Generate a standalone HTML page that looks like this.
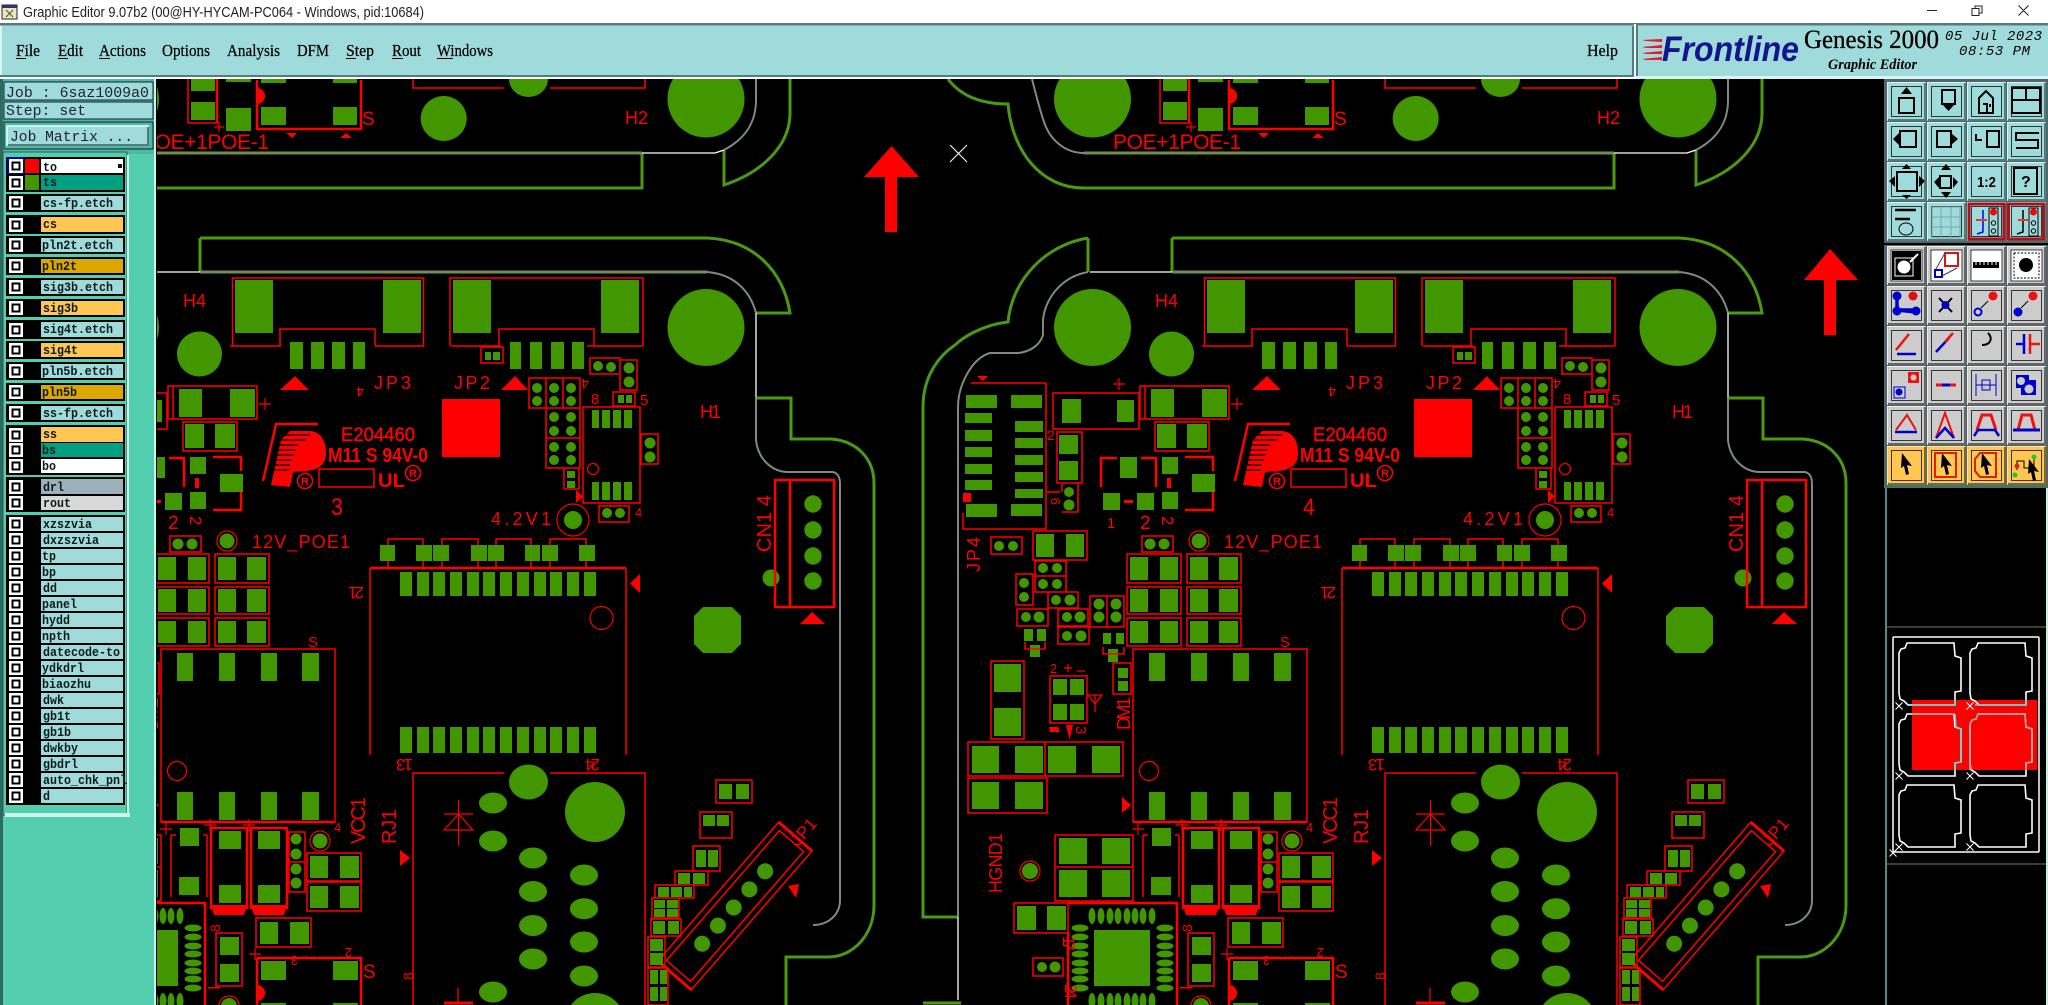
<!DOCTYPE html>
<html><head><meta charset="utf-8"><title>Graphic Editor</title>
<style>
html,body{margin:0;padding:0;background:#000;width:2048px;height:1005px;overflow:hidden}
svg{display:block}
.g{fill:#429700;stroke:none}
.r{fill:none;stroke:#f00;stroke-width:1.5}
.r2{fill:none;stroke:#f00;stroke-width:2.5}
.s{fill:#f00;font-family:"Liberation Sans",sans-serif}
.m{font-family:"Liberation Serif",serif;font-size:17px;fill:#000;stroke:#000;stroke-width:.25}
.l{font-family:"Liberation Mono",monospace;font-size:13px;font-weight:bold;fill:#0a1a1a}
.k{fill:none;stroke:#000;stroke-width:2}
</style></head><body>
<svg xmlns="http://www.w3.org/2000/svg" width="2048" height="1005" viewBox="0 0 2048 1005">
<defs>
<clipPath id="cv"><rect x="157" y="79" width="1727" height="926"/></clipPath>
<g id="b">
 <!-- outline -->
 <g fill="none">
  <path stroke="#4c9a14" stroke-width="3" d="M1172 238H1679C1725 240 1755 270 1762 313H1728M1172 238V272M1088 238V272M1088 238C1045 245 1012 280 1008 322C980 325 960 340 955 345C940 355 923 375 923 407V917H958M923 1003H961M1728 398H1763V439H1803C1830 441 1846 460 1846 483V905C1846 935 1825 957 1800 957H1758V1005M948 79C960 95 980 104 1008 104C1012 150 1040 188 1084 188H1614V153M1696 150V185C1735 172 1762 145 1762 113V79"/>
  <path stroke="#6f8f4f" stroke-width="3" d="M1172 272H1679M1084 153H1614"/>
  <path stroke="#808a80" stroke-width="2" d="M1679 272C1705 274 1722 290 1728 313M1088 272C1060 277 1045 300 1043 320V335C1040 345 1030 352 1018 353H990C972 358 958 385 958 407V917M1728 397V440C1730 460 1745 472 1760 472H1805C1810 473 1812 478 1812 484V900C1812 915 1800 925 1785 925M1032 79C1036 95 1040 110 1044 122C1050 140 1065 153 1084 153M1696 150C1715 140 1728 125 1728 100V79"/>
  <path stroke="#fff" stroke-width="1.3" d="M1090 272H1172M1728 313V397M958 917V1000M1614 153H1687L1696 150"/>
 </g>
 <!-- pads rect -->
 <path class="g" d="M1163 79h24v12h-24zM1163 102h24v18h-24zM1198 108h25v23h-25zM1198 79h25v3h-25zM1233 107h25v18h-25zM1305 107h24v18h-24zM1233 79h25v4h-25zM1305 79h24v4h-24z
 M1207 280h38v53h-38zM1355 280h38v53h-38zM1425 280h38v53h-38zM1573 280h38v53h-38z
 M1262 342h13v27h-13zM1283 342h13v27h-13zM1304 342h13v27h-13zM1325 342h12v27h-12zM1482 342h11v27h-11zM1502 342h12v27h-12zM1523 342h13v27h-13zM1544 342h12v27h-12zM1457 352h6v8h-6zM1465 352h7v8h-7z
 M1151 389h23v28h-23zM1202 389h25v28h-25zM1157 424h19v24h-19zM1187 424h20v24h-20zM1062 399h19v24h-19zM1117 400h17v22h-17z
 M966 395h31v13h-31zM965 413h27v10h-27zM965 430h27v11h-27zM965 447h27v10h-27zM965 464h27v10h-27zM965 480h27v10h-27zM966 504h31v13h-31z
 M1011 395h31v13h-31zM1015 421h28v11h-28zM1015 438h28v10h-28zM1015 455h28v10h-28zM1015 472h28v10h-28zM1015 489h28v9h-28zM1011 504h31v12h-31z
 M1059 435h19v19h-19zM1059 461h19v19h-19zM1120 457h17v21h-17zM1103 493h17v17h-17zM1137 493h17v17h-17zM1162 492h16v17h-16zM1162 457h16v17h-16zM1192 474h23v18h-23z
 M1130 557h18v23h-18zM1160 557h18v23h-18zM1130 589h18v23h-18zM1160 589h18v23h-18zM1130 621h18v22h-18zM1160 621h18v22h-18zM1190 557h18v23h-18zM1219 557h19v23h-19zM1190 589h18v23h-18zM1219 589h19v23h-19zM1190 621h18v22h-18zM1219 621h19v22h-19z
 M1036 534h18v23h-18zM1066 534h18v23h-18z
 M1024 629h9v12h-9zM1037 629h9v12h-9zM1030 645h10v12h-10zM1103 633h8v11h-8zM1116 633h8v11h-8zM1108 649h10v13h-10zM1118 668h10v10h-10zM1118 681h10v10h-10z
 M994 664h27v28h-27zM994 708h27v28h-27zM1053 679h14v16h-14zM1070 679h14v16h-14zM1053 704h14v16h-14zM1070 704h14v16h-14z
 M1149 653h16v28h-16zM1191 653h16v28h-16zM1233 653h16v28h-16zM1274 653h17v28h-17zM1149 792h16v28h-16zM1191 792h16v28h-16zM1233 792h16v28h-16zM1274 792h17v28h-17z
 M1372 572h12v24h-12zM1389 572h12v24h-12zM1405 572h12v24h-12zM1422 572h12v24h-12zM1439 572h12v24h-12zM1455 572h12v24h-12zM1472 572h12v24h-12zM1489 572h12v24h-12zM1506 572h12v24h-12zM1522 572h12v24h-12zM1539 572h12v24h-12zM1556 572h12v24h-12z
 M1372 727h12v26h-12zM1389 727h12v26h-12zM1405 727h12v26h-12zM1422 727h12v26h-12zM1439 727h12v26h-12zM1455 727h12v26h-12zM1472 727h12v26h-12zM1489 727h12v26h-12zM1506 727h12v26h-12zM1522 727h12v26h-12zM1539 727h12v26h-12zM1556 727h12v26h-12z
 M1352 545h15v16h-15zM1388 545h16v16h-16zM1405 545h16v16h-16zM1443 545h16v16h-16zM1460 545h16v16h-16zM1497 545h15v16h-15zM1514 545h16v16h-16zM1551 545h16v16h-16z
 M1564 410h7v18h-7zM1574 410h8v18h-8zM1585 410h8v18h-8zM1596 410h8v18h-8zM1564 482h7v18h-7zM1574 482h8v18h-8zM1585 482h8v18h-8zM1596 482h8v18h-8zM1590 395h6v8h-6zM1598 395h6v8h-6zM1539 471h8v7h-8zM1539 481h8v7h-8z
 M972 746h27v27h-27zM1015 746h28v27h-28zM1048 746h28v27h-28zM1092 746h28v27h-28zM972 782h27v27h-27zM1015 782h28v27h-28z
 M1059 838h28v26h-28zM1102 838h28v26h-28zM1059 870h28v27h-28zM1102 870h28v27h-28zM1152 828h19v18h-19zM1151 877h20v18h-20z
 M1191 831h22v18h-22zM1191 885h22v18h-22zM1230 831h22v18h-22zM1230 885h22v18h-22z
 M1282 856h18v22h-18zM1312 856h19v22h-19zM1282 886h18v22h-18zM1312 886h19v22h-19zM1232 922h18v22h-18zM1262 922h19v22h-19z
 M1017 906h19v24h-19zM1047 906h19v24h-19zM1094 930h56v56h-56zM1192 937h19v18h-19zM1192 964h19v18h-19zM1233 961h25v19h-25zM1305 961h25v19h-25zM1233 1003h25v4h-25zM1305 1003h25v4h-25z"/>
 <path class="g" d="M1666 616l9-9h29l9 9v28l-9 9h-29l-9-9z"/>
 <!-- circles -->
 <g class="g">
  <ellipse cx="1500.5" cy="79" rx="19.5" ry="18"/><ellipse cx="1415.7" cy="118.5" rx="23" ry="22.5"/><ellipse cx="1678" cy="99" rx="38.5" ry="38.5"/><ellipse cx="1092.5" cy="99" rx="38.5" ry="38.5"/>
  <circle cx="1678" cy="327.5" r="38.5"/><circle cx="1092.5" cy="327.5" r="38.5"/><circle cx="1171.5" cy="354" r="22.5"/>
  <circle cx="1069" cy="492" r="5"/><circle cx="1069" cy="505" r="5.5"/><circle cx="1199" cy="541" r="7.5"/><circle cx="1150" cy="544" r="5.5"/><circle cx="1164" cy="544" r="5.5"/><circle cx="999" cy="546" r="5"/><circle cx="1013" cy="546" r="5"/>
  <circle cx="1043" cy="568" r="5"/><circle cx="1057" cy="568" r="5"/><circle cx="1043" cy="584" r="5"/><circle cx="1057" cy="584" r="5"/><circle cx="1024" cy="583" r="5"/><circle cx="1024" cy="597" r="5"/><circle cx="1056" cy="600" r="5"/><circle cx="1070" cy="600" r="5.5"/><circle cx="1026" cy="617" r="5"/><circle cx="1039" cy="617" r="5.5"/><circle cx="1067" cy="617" r="5"/><circle cx="1080" cy="617" r="5.5"/><circle cx="1067" cy="636" r="5"/><circle cx="1081" cy="636" r="5.5"/>
  <circle cx="1099" cy="604" r="5.5"/><circle cx="1116" cy="604" r="5.5"/><circle cx="1099" cy="617" r="5.5"/><circle cx="1116" cy="617" r="5.5"/>
  <circle cx="1545" cy="520" r="9"/><circle cx="1570" cy="366" r="5"/><circle cx="1583" cy="367" r="5"/><circle cx="1601" cy="368" r="5.5"/><circle cx="1601" cy="382" r="5.5"/>
  <circle cx="1509" cy="388" r="5"/><circle cx="1526" cy="388" r="5"/><circle cx="1543" cy="388" r="5"/><circle cx="1509" cy="401" r="5"/><circle cx="1526" cy="401" r="5"/><circle cx="1543" cy="401" r="5"/><circle cx="1526" cy="417" r="5"/><circle cx="1543" cy="417" r="5"/><circle cx="1526" cy="431" r="5"/><circle cx="1543" cy="431" r="5"/><circle cx="1526" cy="447" r="5"/><circle cx="1543" cy="447" r="5"/><circle cx="1526" cy="460" r="5"/><circle cx="1543" cy="460" r="5"/>
  <circle cx="1622" cy="443" r="5.5"/><circle cx="1622" cy="457" r="5.5"/><circle cx="1579" cy="513" r="5"/><circle cx="1592" cy="513" r="5"/>
  <circle cx="1785" cy="504" r="8.7"/><circle cx="1785" cy="530" r="8.7"/><circle cx="1785" cy="556" r="8.7"/><circle cx="1785" cy="581" r="8.7"/><circle cx="1743" cy="578" r="8.5"/>
  <ellipse cx="1500.5" cy="782" rx="19.5" ry="17.5"/><circle cx="1567" cy="812" r="30"/>
  <ellipse cx="1465" cy="803" rx="14" ry="10.5"/><ellipse cx="1465" cy="841" rx="14" ry="10.5"/><ellipse cx="1505" cy="858" rx="14" ry="10.5"/><ellipse cx="1505" cy="891.5" rx="14" ry="10.5"/><ellipse cx="1505" cy="925.5" rx="14" ry="10.5"/><ellipse cx="1505" cy="959" rx="14" ry="10.5"/><ellipse cx="1556" cy="875" rx="14" ry="10.5"/><ellipse cx="1556" cy="908.7" rx="14" ry="10.5"/><ellipse cx="1556" cy="942" rx="14" ry="10.5"/><ellipse cx="1556" cy="976" rx="14" ry="10.5"/><ellipse cx="1465" cy="992" rx="14" ry="10.5"/><circle cx="1567" cy="1023" r="30"/>
  <circle cx="1030" cy="871" r="8"/><circle cx="1268" cy="839" r="5.5"/><circle cx="1268" cy="854" r="5.5"/><circle cx="1268" cy="869" r="5.5"/><circle cx="1268" cy="883" r="5.5"/><circle cx="1292" cy="841" r="7.5"/><circle cx="1042" cy="967" r="5"/><circle cx="1055" cy="967" r="5.5"/><circle cx="1201" cy="1006" r="8"/>
  <ellipse cx="1092" cy="916" rx="3.5" ry="8"/><ellipse cx="1101" cy="916" rx="3.5" ry="8"/><ellipse cx="1110" cy="916" rx="3.5" ry="8"/><ellipse cx="1118" cy="916" rx="3.5" ry="8"/><ellipse cx="1127" cy="916" rx="3.5" ry="8"/><ellipse cx="1135" cy="916" rx="3.5" ry="8"/><ellipse cx="1143" cy="916" rx="3.5" ry="8"/><ellipse cx="1152" cy="916" rx="3.5" ry="8"/>
  <ellipse cx="1092" cy="1001" rx="3.5" ry="8"/><ellipse cx="1101" cy="1001" rx="3.5" ry="8"/><ellipse cx="1110" cy="1001" rx="3.5" ry="8"/><ellipse cx="1118" cy="1001" rx="3.5" ry="8"/><ellipse cx="1127" cy="1001" rx="3.5" ry="8"/><ellipse cx="1135" cy="1001" rx="3.5" ry="8"/><ellipse cx="1143" cy="1001" rx="3.5" ry="8"/><ellipse cx="1152" cy="1001" rx="3.5" ry="8"/>
  <ellipse cx="1080" cy="928" rx="8.5" ry="3.5"/><ellipse cx="1080" cy="937" rx="8.5" ry="3.5"/><ellipse cx="1080" cy="946" rx="8.5" ry="3.5"/><ellipse cx="1080" cy="954" rx="8.5" ry="3.5"/><ellipse cx="1080" cy="963" rx="8.5" ry="3.5"/><ellipse cx="1080" cy="971" rx="8.5" ry="3.5"/><ellipse cx="1080" cy="979" rx="8.5" ry="3.5"/><ellipse cx="1080" cy="988" rx="8.5" ry="3.5"/>
  <ellipse cx="1165" cy="928" rx="8.5" ry="3.5"/><ellipse cx="1165" cy="937" rx="8.5" ry="3.5"/><ellipse cx="1165" cy="946" rx="8.5" ry="3.5"/><ellipse cx="1165" cy="954" rx="8.5" ry="3.5"/><ellipse cx="1165" cy="963" rx="8.5" ry="3.5"/><ellipse cx="1165" cy="971" rx="8.5" ry="3.5"/><ellipse cx="1165" cy="979" rx="8.5" ry="3.5"/><ellipse cx="1165" cy="988" rx="8.5" ry="3.5"/>
 </g>
 <!-- red outlines -->
 <path class="r" d="M1160 79V123H1190M1385 79V88H1476M1522 88H1617V79M1204.5 346V278H1395.5V346M1202 346H1253M1347 346H1396M1252 346V329H1347V346M1422 346V278H1615V346M1423 346H1473M1559 346H1615M1471 346V329H1566V346M1453 347H1475V363H1453ZM1555 407H1612V503H1555Z
 M971 383H1046V529H963V513M1053 393H1139V429H1053ZM1155 422H1209V451H1155ZM1140 386H1229V419H1140ZM1145 386V419
 M1057 432H1082V483H1057ZM1047 492H1060M1078 483V512H1062M1062 484V492
 M1142 536H1173V552H1142ZM991 537H1022V554H991Z
 M1127 554H1181V583H1127ZM1127 587H1181V614H1127ZM1127 618H1181V646H1127ZM1187 554H1241V583H1187ZM1187 587H1241V614H1187ZM1187 618H1241V646H1187ZM1033 531H1087V560H1033Z
 M1035 561H1066V576H1035ZM1035 576H1066V592H1035ZM1016 574H1033V605H1016ZM1048 592H1078V608H1048ZM1017 609H1048V626H1017ZM1058 609H1088V626H1058ZM1058 627H1089V644H1058ZM1090 596H1124V627H1090ZM1107 596V627M1025 642V649H1045V642M1103 647V654H1124V647M1113 663H1131V694H1113Z
 M1562 358H1592V374H1562ZM1592 360H1609V390H1592ZM1501 378H1552V408H1501ZM1518 378V408M1535 378V408M1518 408V468H1552V408M1518 438H1552M1536 468V489H1551V468M1585 392H1607V406H1585ZM1613 434H1630V464H1613ZM1571 506H1601V522H1571Z
 M1360 545V539H1395V545M1414 545V539H1450V545M1468 545V539H1503V545M1522 545V539H1558V545M1360 561V568M1395 561V568M1414 561V568M1450 561V568M1468 561V568M1503 561V568M1522 561V568M1558 561V568
 M1342 568V755M1598 568V755M1291 469H1346V487H1291Z
 M991 661H1024V739H991ZM1050 676H1087V723H1050ZM968 742H1123V776H968ZM1045 742V776M968 778H1047V813H968ZM1055 835H1133V901H1055ZM1055 867H1133M1014 903H1068V933H1014ZM1143 835V897M1179 835V897M1143 835H1148M1179 835H1175
 M1261 832H1277V892H1261ZM1261 862H1277M1279 853H1333V881H1279ZM1279 882H1333V911H1279ZM1228 918H1283V947H1228ZM1188 933H1214V986H1188ZM1033 958H1063V976H1033Z
 M1133 649H1307V822H1133ZM1385 1005V773H1476M1522 773H1617V1005"/>
 <path class="r2" d="M1229 80V129H1333V80M1189 79V123M1342 568H1598M1133 822H1307M1101 487V458H1117M1141 458H1156V487M1185 457H1213V471M1185 510H1213V492M1068 903H1177V1005M1068 933V1005M1747 480H1806V607H1747ZM1762 480V607M1183 828H1219V908H1183ZM1223 828H1259V908H1223ZM1229 958H1333V1005M1229 958V1005"/>
 <path fill="#f00" d="M1258 133h11l-5 5zM1312 138l6-5 6 5zM1252 390l15-14 14 14zM1473 390l14-14 13 14zM977 376h11l-5 5zM1602 583.5l10-9.5v19zM1548 490l7 6.5-7 6.5zM1772 624l12-12 13 12zM1372 850l10 8-10 8zM1122 797l9 8-9 8zM1066 725h7l-3.5 15zM1414 399h58v58h-58zM1167 478h4v10h-4zM1124 500h9v3h-9zM1049 727h9l2 5h-10zM1183 905h36l-3 10h-30zM1223 905h36l-3 10h-30zM963 493h8v9h-8z"/>
 <path fill="#f00" d="M1229 88a8 8 0 0 1 0 16zM1229 985a8 8 0 0 1 0 16z"/>
 <g class="r" style="stroke-width:1.2">
  <ellipse cx="1199" cy="541" rx="10" ry="10"/><circle cx="1149" cy="771" r="9.5"/><circle cx="1573.5" cy="618" r="11.5"/><circle cx="1545" cy="520" r="16"/><circle cx="1565" cy="469" r="5.5"/><circle cx="1030" cy="871" r="10"/><circle cx="1292" cy="841" r="10"/><circle cx="1201" cy="1006" r="10"/>
  <path d="M1191 122V132M1186 127H1196M1237 398V410M1231 404H1243M1119 378V390M1113 384H1125M1430.5 800V846M1416 830L1430.5 814L1445 830ZM1416 814H1445M1430 988V1003M1138 823V835M1132 829H1144M1182 819V831M1176 825H1188M1221 819V831M1215 825H1227M1227 948V960M1221 954H1233M1068 664V672M1064 668H1072M1077 671H1085M1088 695H1102L1095 704ZM1095 695V712"/>
 </g>
 <path fill="none" stroke="#f00" stroke-width="3" d="M1416 1003H1445"/>
 <!-- JP1 connector -->
 <g transform="translate(1707 906) rotate(-49)">
  <path class="r" d="M-92-22H92V22H-92ZM-86-16H86V16H-86Z"/>
  <path fill="none" stroke="#f00" stroke-width="3" d="M-92-22V22M92-22V22"/>
  <g class="g"><circle cx="-50" cy="0" r="8"/><circle cx="-26" cy="0" r="8"/><circle cx="-2" cy="0" r="8"/><circle cx="22" cy="0" r="8"/><circle cx="46" cy="0" r="8"/></g>
 </g>
 <path class="r" d="M1688 780H1724V803H1688ZM1665 846H1692V871H1665ZM1647 871H1680V885H1647ZM1627 885H1666V898H1627ZM1624 898H1651V918H1624ZM1623 919H1653V936H1623ZM1620 937H1637V967H1620ZM1620 968H1640V1005H1620ZM1672 812H1704V838H1672Z"/>
 <path class="g" d="M1691 784h13v15h-13zM1708 784h13v15h-13zM1668 850h10v17h-10zM1680 850h10v17h-10zM1650 873h12v11h-12zM1665 873h12v11h-12zM1630 887h11v10h-11zM1643 887h11v10h-11zM1656 887h8v10h-8zM1626 900h11v8h-11zM1639 900h11v8h-11zM1626 909h11v8h-11zM1639 909h11v8h-11zM1625 921h12v13h-12zM1640 921h11v13h-11zM1622 939h13v12h-13zM1622 953h13v12h-13zM1622 970h8v14h-8zM1632 970h7v14h-7zM1622 987h8v14h-8zM1632 987h7v14h-7zM1675 815h12v11h-12zM1689 815h12v11h-12z"/>
 <path fill="#f00" d="M1760 886l11-2-3 14z"/>
 <!-- logo -->
 <path fill="none" stroke="#f00" stroke-width="2.5" d="M1290 424H1248L1235 481"/>
 <path fill="#f00" d="M1262 431H1282C1294 432 1298 442 1298 453C1298 465 1290 470 1278 471L1265 472L1262 487L1243 485L1253 440Z"/>
 <path stroke="#000" stroke-width="1.3" d="M1254 435H1282M1252 440H1278M1250 445H1270M1249 450H1268M1247 455H1266M1246 460H1264M1245 465H1262M1244 470H1261"/>
 <circle class="r" cx="1277" cy="481" r="7.5"/><circle class="r" cx="1385" cy="473" r="7.5"/>
 <text class="s" x="1273" y="485" font-size="11" font-weight="bold">R</text><text class="s" x="1381" y="477" font-size="11" font-weight="bold">R</text>
 <text class="s" x="1350" y="487" font-size="19" font-weight="bold" textLength="27" lengthAdjust="spacingAndGlyphs">UL</text>
 <text class="s" x="1313" y="441" font-size="19" stroke="#f00" stroke-width=".4" textLength="74" lengthAdjust="spacingAndGlyphs">E204460</text>
 <text class="s" x="1300" y="462" font-size="20" font-weight="bold" textLength="100" lengthAdjust="spacingAndGlyphs">M11 S 94V-0</text>
 <!-- labels -->
 <g class="s" font-size="18">
  <text x="1113" y="149" font-size="21" textLength="128" lengthAdjust="spacing">POE+1POE-1</text>
  <text x="1597" y="124" textLength="23" lengthAdjust="spacing">H2</text>
  <text x="1155" y="307" textLength="23" lengthAdjust="spacing">H4</text>
  <text x="1346" y="389" textLength="37" lengthAdjust="spacing">JP3</text>
  <text x="1426" y="389" textLength="36" lengthAdjust="spacing">JP2</text>
  <text x="1672" y="418" textLength="21" lengthAdjust="spacing">H1</text>
  <text x="1224" y="548" textLength="98" lengthAdjust="spacing">12V_POE1</text>
  <text x="1463" y="525" textLength="60" lengthAdjust="spacing">4.2V1</text>
  <text x="1334" y="125" font-size="19">S</text>
  <text x="1335" y="978" font-size="19">S</text>
  <text x="1107" y="528" font-size="15">1</text><text x="1140" y="529" font-size="19">2</text>
  <text transform="translate(1162 516) rotate(90)" font-size="17">2</text>
  <text x="1047" y="440" font-size="14">2</text>
  <text x="1280" y="647" font-size="15">S</text>
  <text x="1563" y="404" font-size="15">8</text><text x="1612" y="405" font-size="15">5</text><text x="1607" y="517" font-size="13">4</text>
  <text x="1306" y="832" font-size="13">4</text>
  <text transform="translate(1561 379) rotate(180)" font-size="14">4</text>
  <text transform="translate(1336 377) rotate(180)" font-size="14" y="-10">4</text>
  <text transform="translate(1336 587) rotate(180)" font-size="17" textLength="16">21</text>
  <text transform="translate(1385 759) rotate(180)" font-size="17" textLength="17">13</text>
  <text transform="translate(1572 759) rotate(180)" font-size="17" textLength="15">24</text>
  <text transform="translate(1063 936) rotate(90)" font-size="17" textLength="15">17</text>
  <text transform="translate(1065 984) rotate(90)" font-size="17" textLength="15">24</text>
  <text transform="translate(980 572) rotate(-90)" textLength="35" lengthAdjust="spacing">JP4</text>
  <text transform="translate(1130 730) rotate(-90)" textLength="33" lengthAdjust="spacing">DM1</text>
  <text transform="translate(1002 893) rotate(-90)" textLength="60" lengthAdjust="spacing">HGND1</text>
  <text transform="translate(1337 844) rotate(-90)" font-size="20" textLength="47" lengthAdjust="spacing">VCC1</text>
  <text transform="translate(1368 844) rotate(-90)" font-size="20" textLength="35" lengthAdjust="spacing">RJ1</text>
  <text transform="translate(1743 552) rotate(-90)" font-size="20" textLength="57" lengthAdjust="spacing">CN1 4</text>
  <text transform="translate(1761 839) rotate(-49) translate(0 12)" font-size="17" textLength="30" lengthAdjust="spacing">JP1</text>
  <text transform="translate(1385 980) rotate(-90)" font-size="14">8</text>
  <text transform="translate(1192 932) rotate(-90)" font-size="14">8</text>
  <text transform="translate(1076 726) rotate(90)" font-size="15">3</text>
  <text transform="translate(1258 956) rotate(180) translate(-12 0)" font-size="13">3</text>
  <text transform="translate(1324 948) rotate(180)" font-size="13">2</text>
  <text x="1050" y="673" font-size="13">2</text>
  <text transform="translate(1048 505) rotate(-90)" font-size="13" y="12">9</text>
  <rect x="1180" y="987" width="12" height="1.5"/>
 </g>
</g>
<g id="bt"><rect width="39" height="39" fill="#a0dbdb"/><path fill="none" stroke="#d8f4f4" d="M.5 38V.5H38"/><path fill="none" stroke="#537d7d" stroke-width="2" d="M1 38H38V1"/><rect x="4.5" y="4.5" width="30" height="30" fill="none" stroke="#111" stroke-width=".8"/></g>
<g id="bg"><rect width="39" height="39" fill="#ccc"/><path fill="none" stroke="#eee" d="M.5 38V.5H38"/><path fill="none" stroke="#666" stroke-width="2" d="M1 38H38V1"/><rect x="4.5" y="4.5" width="30" height="30" fill="none" stroke="#111" stroke-width=".8"/></g>
<g id="bw"><rect width="39" height="39" fill="#ccc"/><path fill="none" stroke="#eee" d="M.5 38V.5H38"/><path fill="none" stroke="#666" stroke-width="2" d="M1 38H38V1"/><rect x="4" y="4" width="31" height="31" fill="#fff" stroke="#111" stroke-width=".8"/></g>
<g id="bo"><rect width="39" height="39" fill="#ffc654"/><path fill="none" stroke="#ffe6a8" d="M.5 38V.5H38"/><path fill="none" stroke="#7a6a3a" stroke-width="2" d="M1 38H38V1"/><rect x="4.5" y="4.5" width="30" height="30" fill="none" stroke="#111" stroke-width=".8"/></g>
<g id="chk"><rect width="14" height="14" fill="#fff"/><rect x="2.5" y="2.5" width="9" height="9" fill="#000"/><rect x="4.5" y="4.5" width="5" height="5" fill="#fff"/></g>
<path id="mini" fill="none" d="M8 0H55L56 13L62 15V48L56 49V62H9L5 58L1 56L0 50V10L2 6L6 5Z"/>
<path id="cx" fill="none" stroke="#fff" stroke-width="1" d="M-3.5-3.5L3.5 3.5M-3.5 3.5L3.5-3.5"/>
</defs>

<rect width="2048" height="1005" fill="#000"/>
<!-- canvas -->
<g clip-path="url(#cv)">
 <use href="#b"/>
 <use href="#b" x="-972"/>
 <g class="s" font-size="24"><text x="1303" y="515" textLength="12" lengthAdjust="spacingAndGlyphs">4</text><text x="331" y="515" textLength="12" lengthAdjust="spacingAndGlyphs">3</text></g>
 <path fill="#f00" d="M891.5 146L919 177H897V232H885V177H864ZM1830 249L1858 280H1836V335H1824V280H1804Z"/>
 <path stroke="#fff" stroke-width="1" d="M950 145L967 162M967 145L950 162"/>
</g>

<!-- title bar -->
<rect width="2048" height="23" fill="#fff"/>
<rect x="2" y="5" width="15" height="14" fill="#e8e8c8" stroke="#222"/><rect x="2" y="5" width="15" height="3" fill="#336"/>
<path stroke="#550" d="M6 10L13 17M13 10L6 17"/>
<text x="23" y="17" font-family="Liberation Sans,sans-serif" font-size="15" fill="#222" textLength="401" lengthAdjust="spacingAndGlyphs">Graphic Editor 9.07b2 (00@HY-HYCAM-PC064 - Windows, pid:10684)</text>
<path stroke="#222" fill="none" d="M1927 10.5H1937M1972 8.5H1979V15.5H1972ZM1975 8.5V6H1982V13H1979M2018.5 5.5L2028.5 15.5M2028.5 5.5L2018.5 15.5"/>
<!-- menu bar -->
<rect y="23" width="2048" height="56" fill="#fff"/>
<rect y="23" width="2048" height="2.5" fill="#5a7a7a"/>
<rect y="25.5" x="0" width="2048" height="51.5" fill="#a0dbdb"/>
<rect y="25.5" x="0" width="2" height="51" fill="#d8f4f4"/>
<rect y="75" width="1633" height="2" fill="#537d7d"/>
<rect x="1632" y="26" width="2" height="51" fill="#537d7d"/><rect x="1634" y="24" width="2" height="55" fill="#e8ffff"/><rect x="1636" y="76" width="412" height="3" fill="#d8f4f4"/><rect x="1636" y="25" width="2" height="51" fill="#537d7d"/>
<g class="m">
 <text x="16" y="56" textLength="24" lengthAdjust="spacingAndGlyphs">File</text>
 <text x="58" y="56" textLength="25" lengthAdjust="spacingAndGlyphs">Edit</text>
 <text x="99" y="56" textLength="47" lengthAdjust="spacingAndGlyphs">Actions</text>
 <text x="162" y="56" textLength="48" lengthAdjust="spacingAndGlyphs">Options</text>
 <text x="227" y="56" textLength="53" lengthAdjust="spacingAndGlyphs">Analysis</text>
 <text x="297" y="56" textLength="32" lengthAdjust="spacingAndGlyphs">DFM</text>
 <text x="346" y="56" textLength="28" lengthAdjust="spacingAndGlyphs">Step</text>
 <text x="392" y="56" textLength="29" lengthAdjust="spacingAndGlyphs">Rout</text>
 <text x="437" y="56" textLength="56" lengthAdjust="spacingAndGlyphs">Windows</text>
 <text x="1587" y="56" textLength="31" lengthAdjust="spacingAndGlyphs">Help</text>
</g>
<path stroke="#000" stroke-width="1" d="M16 58.5H26M58 58.5H68M99 58.5H110M346 58.5H356M392 58.5H403M437 58.5H453"/>
<!-- logo -->
<path fill="#e8192c" d="M1642 40L1662 39V42L1646 41ZM1642 47L1662 45V48L1646 48ZM1642 53L1662 51V54L1646 54ZM1642 59L1662 57V60L1646 60Z"/>
<text x="1662" y="61" font-family="Liberation Sans,sans-serif" font-weight="bold" font-style="italic" font-size="35" fill="#14148c" textLength="137" lengthAdjust="spacingAndGlyphs">Frontline</text>
<text x="1804" y="48" font-family="Liberation Serif,serif" font-size="26" fill="#000" stroke="#000" stroke-width=".3" textLength="135" lengthAdjust="spacingAndGlyphs">Genesis 2000</text>
<text x="1828" y="69" font-family="Liberation Serif,serif" font-weight="bold" font-style="italic" font-size="15" fill="#000" textLength="89" lengthAdjust="spacingAndGlyphs">Graphic Editor</text>
<g font-family="Liberation Mono,monospace" font-style="italic" font-size="14" fill="#000">
 <text x="1945" y="40" textLength="97" lengthAdjust="spacing">05 Jul 2023</text>
 <text x="1959" y="55" textLength="71" lengthAdjust="spacing">08:53 PM</text>
</g>

<!-- left panel -->
<rect y="79" width="155" height="926" fill="#53cfb0"/>
<rect y="79" width="155" height="75" fill="#4fb8a2"/>
<rect y="79" width="3" height="926" fill="#2f6a60"/>
<rect x="154" y="79" width="2" height="926" fill="#cdf2e8"/>
<rect x="4" y="82" width="149" height="18" fill="#a0dbdb" stroke="#123" stroke-width="1"/>
<rect x="4" y="102" width="149" height="17" fill="#a0dbdb" stroke="#123" stroke-width="1"/>
<rect x="4" y="122" width="149" height="27" fill="none" stroke="#123" stroke-width="1"/>
<rect x="7" y="126" width="142" height="20" fill="#a0dbdb"/>
<path fill="none" stroke="#e8ffff" stroke-width="1.5" d="M7 146V126H149"/><path fill="none" stroke="#537d7d" stroke-width="2" d="M8 145H148V127"/>
<g font-family="Liberation Mono,monospace" font-size="15" fill="#223">
 <text x="6" y="97" textLength="143" lengthAdjust="spacingAndGlyphs">Job : 6saz1009a0</text>
 <text x="6" y="115" textLength="80" lengthAdjust="spacingAndGlyphs">Step: set</text>
 <text x="10" y="141" textLength="123" lengthAdjust="spacingAndGlyphs">Job Matrix ...</text>
</g>
<rect x="3" y="152" width="124" height="663" fill="#53cfb0" stroke="#2d5a50"/>
<rect x="5" y="813" width="125" height="4" fill="#d0f2e8"/>
<rect x="127" y="155" width="2" height="660" fill="#cdf2e8"/>
<g fill="#000">
<rect x="6" y="157" width="119" height="35"/><rect x="6" y="194" width="119" height="18"/><rect x="6" y="215" width="119" height="19"/><rect x="6" y="236" width="119" height="18"/><rect x="6" y="257" width="119" height="18"/><rect x="6" y="278" width="119" height="18"/><rect x="6" y="299" width="119" height="18"/><rect x="6" y="320" width="119" height="19"/><rect x="6" y="341" width="119" height="18"/><rect x="6" y="362" width="119" height="18"/><rect x="6" y="383" width="119" height="18"/><rect x="6" y="404" width="119" height="18"/><rect x="6" y="425" width="119" height="50"/><rect x="6" y="477" width="119" height="35"/><rect x="6" y="515" width="119" height="290"/>
</g>
<!-- rows -->
<g fill="#a0dbdb">
<rect x="41" y="196" width="82" height="14"/><rect x="41" y="238" width="82" height="14"/><rect x="41" y="280" width="82" height="14"/><rect x="41" y="322" width="82" height="15"/><rect x="41" y="364" width="82" height="14"/><rect x="41" y="406" width="82" height="14"/>
<rect x="41" y="517" width="82" height="14"/><rect x="41" y="533" width="82" height="14"/><rect x="41" y="549" width="82" height="14"/><rect x="41" y="565" width="82" height="14"/><rect x="41" y="581" width="82" height="14"/><rect x="41" y="597" width="82" height="14"/><rect x="41" y="613" width="82" height="14"/><rect x="41" y="629" width="82" height="14"/><rect x="41" y="645" width="82" height="14"/><rect x="41" y="661" width="82" height="14"/><rect x="41" y="677" width="82" height="14"/><rect x="41" y="693" width="82" height="14"/><rect x="41" y="709" width="82" height="14"/><rect x="41" y="725" width="82" height="14"/><rect x="41" y="741" width="82" height="14"/><rect x="41" y="757" width="82" height="14"/><rect x="41" y="773" width="82" height="14"/><rect x="41" y="789" width="82" height="14"/>
</g>
<rect x="41" y="159" width="82" height="14" fill="#fff"/><rect x="41" y="175" width="82" height="15" fill="#00a080"/>
<rect x="41" y="217" width="82" height="15" fill="#ffc654"/><rect x="41" y="259" width="82" height="14" fill="#dca800"/><rect x="41" y="301" width="82" height="14" fill="#ffc654"/><rect x="41" y="343" width="82" height="14" fill="#ffc654"/><rect x="41" y="385" width="82" height="14" fill="#dca800"/><rect x="41" y="427" width="82" height="15" fill="#ffc654"/><rect x="41" y="443" width="82" height="14" fill="#00a080"/><rect x="41" y="459" width="82" height="14" fill="#fff"/><rect x="41" y="479" width="82" height="15" fill="#9cb0bc"/><rect x="41" y="496" width="82" height="14" fill="#d8d8d8"/>
<rect x="25" y="159" width="14" height="14" fill="#f00"/><rect x="25" y="175" width="14" height="15" fill="#429700"/>
<rect x="7" y="157" width="17" height="17" fill="#0000a0"/>
<use href="#chk" x="9" y="159"/><use href="#chk" x="9" y="176"/><use href="#chk" x="9" y="196"/><use href="#chk" x="9" y="218"/><use href="#chk" x="9" y="238"/><use href="#chk" x="9" y="259"/><use href="#chk" x="9" y="280"/><use href="#chk" x="9" y="301"/><use href="#chk" x="9" y="323"/><use href="#chk" x="9" y="343"/><use href="#chk" x="9" y="364"/><use href="#chk" x="9" y="385"/><use href="#chk" x="9" y="406"/><use href="#chk" x="9" y="428"/><use href="#chk" x="9" y="443"/><use href="#chk" x="9" y="459"/><use href="#chk" x="9" y="480"/><use href="#chk" x="9" y="496"/>
<use href="#chk" x="9" y="517"/><use href="#chk" x="9" y="533"/><use href="#chk" x="9" y="549"/><use href="#chk" x="9" y="565"/><use href="#chk" x="9" y="581"/><use href="#chk" x="9" y="597"/><use href="#chk" x="9" y="613"/><use href="#chk" x="9" y="629"/><use href="#chk" x="9" y="645"/><use href="#chk" x="9" y="661"/><use href="#chk" x="9" y="677"/><use href="#chk" x="9" y="693"/><use href="#chk" x="9" y="709"/><use href="#chk" x="9" y="725"/><use href="#chk" x="9" y="741"/><use href="#chk" x="9" y="757"/><use href="#chk" x="9" y="773"/><use href="#chk" x="9" y="789"/>
<rect x="118" y="164" width="4" height="4" fill="#111"/>
<g class="l">
<text x="43" y="171" textLength="14" lengthAdjust="spacingAndGlyphs">to</text><text x="43" y="186" textLength="14" lengthAdjust="spacingAndGlyphs">ts</text>
<text x="43" y="207" textLength="70" lengthAdjust="spacingAndGlyphs">cs-fp.etch</text><text x="43" y="228" textLength="14" lengthAdjust="spacingAndGlyphs">cs</text>
<text x="42" y="249" textLength="71" lengthAdjust="spacingAndGlyphs">pln2t.etch</text><text x="42" y="270" textLength="35" lengthAdjust="spacingAndGlyphs">pln2t</text>
<text x="43" y="291" textLength="70" lengthAdjust="spacingAndGlyphs">sig3b.etch</text><text x="43" y="312" textLength="35" lengthAdjust="spacingAndGlyphs">sig3b</text>
<text x="43" y="333" textLength="70" lengthAdjust="spacingAndGlyphs">sig4t.etch</text><text x="43" y="354" textLength="35" lengthAdjust="spacingAndGlyphs">sig4t</text>
<text x="42" y="375" textLength="71" lengthAdjust="spacingAndGlyphs">pln5b.etch</text><text x="42" y="396" textLength="35" lengthAdjust="spacingAndGlyphs">pln5b</text>
<text x="43" y="417" textLength="70" lengthAdjust="spacingAndGlyphs">ss-fp.etch</text>
<text x="43" y="438" textLength="14" lengthAdjust="spacingAndGlyphs">ss</text><text x="42" y="454" textLength="14" lengthAdjust="spacingAndGlyphs">bs</text><text x="42" y="470" textLength="14" lengthAdjust="spacingAndGlyphs">bo</text>
<text x="43" y="491" textLength="21" lengthAdjust="spacingAndGlyphs">drl</text><text x="43" y="507" textLength="28" lengthAdjust="spacingAndGlyphs">rout</text>
<text x="43" y="528" textLength="49" lengthAdjust="spacingAndGlyphs">xzszvia</text><text x="43" y="544" textLength="56" lengthAdjust="spacingAndGlyphs">dxzszvia</text><text x="42" y="560" textLength="14" lengthAdjust="spacingAndGlyphs">tp</text><text x="42" y="576" textLength="14" lengthAdjust="spacingAndGlyphs">bp</text><text x="43" y="592" textLength="14" lengthAdjust="spacingAndGlyphs">dd</text><text x="42" y="608" textLength="35" lengthAdjust="spacingAndGlyphs">panel</text><text x="42" y="624" textLength="28" lengthAdjust="spacingAndGlyphs">hydd</text><text x="42" y="640" textLength="28" lengthAdjust="spacingAndGlyphs">npth</text><text x="43" y="656" textLength="77" lengthAdjust="spacingAndGlyphs">datecode-to</text><text x="42" y="672" textLength="42" lengthAdjust="spacingAndGlyphs">ydkdrl</text><text x="42" y="688" textLength="49" lengthAdjust="spacingAndGlyphs">biaozhu</text><text x="43" y="704" textLength="21" lengthAdjust="spacingAndGlyphs">dwk</text><text x="43" y="720" textLength="28" lengthAdjust="spacingAndGlyphs">gb1t</text><text x="43" y="736" textLength="28" lengthAdjust="spacingAndGlyphs">gb1b</text><text x="43" y="752" textLength="35" lengthAdjust="spacingAndGlyphs">dwkby</text><text x="43" y="768" textLength="35" lengthAdjust="spacingAndGlyphs">gbdrl</text><text x="43" y="784" textLength="84" lengthAdjust="spacingAndGlyphs">auto_chk_pnl</text><text x="43" y="800" textLength="7" lengthAdjust="spacingAndGlyphs">d</text>
</g>

<!-- right toolbar -->
<rect x="1884" y="79" width="164" height="408" fill="#55666a"/>
<rect x="1884" y="243" width="164" height="2" fill="#000"/>
<rect x="1884" y="485" width="164" height="3" fill="#3f7468"/>
<use href="#bt" x="1887" y="82"/><use href="#bt" x="1927" y="82"/><use href="#bt" x="1967" y="82"/><use href="#bt" x="2007" y="82"/>
<use href="#bt" x="1887" y="122"/><use href="#bt" x="1927" y="122"/><use href="#bt" x="1967" y="122"/><use href="#bt" x="2007" y="122"/>
<use href="#bt" x="1887" y="162"/><use href="#bt" x="1927" y="162"/><use href="#bt" x="1967" y="162"/><use href="#bt" x="2007" y="162"/>
<use href="#bt" x="1887" y="202"/><use href="#bt" x="1927" y="202"/><use href="#bt" x="1967" y="202"/><use href="#bt" x="2007" y="202"/>
<use href="#bw" x="1887" y="246"/><use href="#bw" x="1927" y="246"/><use href="#bw" x="1967" y="246"/><use href="#bw" x="2007" y="246"/>
<use href="#bg" x="1887" y="286"/><use href="#bg" x="1927" y="286"/><use href="#bg" x="1967" y="286"/><use href="#bg" x="2007" y="286"/>
<use href="#bg" x="1887" y="326"/><use href="#bg" x="1927" y="326"/><use href="#bg" x="1967" y="326"/><use href="#bg" x="2007" y="326"/>
<use href="#bg" x="1887" y="366"/><use href="#bg" x="1927" y="366"/><use href="#bg" x="1967" y="366"/><use href="#bg" x="2007" y="366"/>
<use href="#bg" x="1887" y="406"/><use href="#bg" x="1927" y="406"/><use href="#bg" x="1967" y="406"/><use href="#bg" x="2007" y="406"/>
<use href="#bo" x="1887" y="446"/><use href="#bo" x="1927" y="446"/><use href="#bo" x="1967" y="446"/><use href="#bo" x="2007" y="446"/>
<!-- icons row 1-4 -->
<g class="k">
 <path d="M1899 98H1914V113H1899Z"/><path d="M1942 90H1955V104H1942Z"/><path d="M1979 98L1986 91L1993 98V113H1979ZM1983 104H1987V113M1990 104V107"/><path d="M2012 88H2040V113H2012ZM2012 100H2040M2026 88V100"/>
 <path d="M1900 131H1916V147H1900Z"/><path d="M1937 131H1951V147H1937Z"/><path d="M1987 131H1999V147H1987ZM1976 134V140H1982"/><path d="M2039 133H2016V140H2038V148H2016"/>
 <path d="M1897 172H1917V191H1897Z"/><path d="M1940 176H1951V188H1940Z"/><path d="M2014 168H2037V194H2014Z"/>
</g>
<g fill="#000">
 <path d="M1906.5 87L1912 94H1901ZM1948.5 111L1942 104H1955ZM1893 139L1899 133V145ZM1958 139L1951 133V145ZM1906.5 164L1911 169H1902ZM1906.5 199L1902 195H1911ZM1889 181L1895 176V187ZM1925 181L1919 176V187ZM1946 164L1951 170H1941ZM1946 198L1941 192H1951ZM1934 182L1939 177V188ZM1958 182L1953 177V188Z"/>
 <text x="1977" y="187" font-family="Liberation Sans,sans-serif" font-weight="bold" font-size="15" textLength="19" lengthAdjust="spacingAndGlyphs">1:2</text>
 <text x="2021" y="187" font-family="Liberation Sans,sans-serif" font-weight="bold" font-size="16">?</text>
</g>
<path stroke="#000" stroke-width="2.5" fill="none" d="M1895 210H1916M1895 219H1910"/><ellipse cx="1906" cy="229" rx="7" ry="6" fill="none" stroke="#000"/>
<path stroke="#7aa8a8" fill="none" d="M1932 207H1960V238H1932ZM1932 217H1960M1932 227H1960M1941 207V238M1951 207V238"/>
<rect x="1969" y="204" width="35" height="35" fill="none" stroke="#b01018" stroke-width="3"/><rect x="2008.5" y="204" width="35" height="35" fill="none" stroke="#b01018" stroke-width="3"/>
<rect x="1989" y="208" width="9" height="28" fill="none" stroke="#000"/><rect x="2029" y="208" width="9" height="28" fill="none" stroke="#000"/>
<circle cx="1993.5" cy="212" r="3.5" fill="#f00"/><circle cx="2033.5" cy="212" r="3.5" fill="#f00"/><circle cx="1993.5" cy="223" r="2.2" fill="none" stroke="#000"/><circle cx="2033.5" cy="223" r="2.2" fill="none" stroke="#000"/><circle cx="1993.5" cy="231" r="2.2" fill="none" stroke="#000"/><circle cx="2033.5" cy="231" r="2.2" fill="none" stroke="#000"/>
<path fill="none" stroke="#00f" stroke-width="1.5" d="M1983 210V232L1977 234"/><path fill="none" stroke="#000" stroke-width="1.5" d="M2023 210V232L2017 234"/>
<path stroke="#e33" stroke-width="2" d="M1976 220H1987M2018 220H2028"/>
<!-- group 2 icons -->
<rect x="1892" y="251" width="29" height="29" fill="#000"/><rect x="1895" y="258" width="18" height="18" fill="#000" stroke="#fff"/><circle cx="1904" cy="267" r="6.5" fill="#fff"/><path stroke="#fff" stroke-width="2" d="M1910 262L1918 254"/>
<rect x="1945" y="253" width="13" height="13" fill="none" stroke="#d11" stroke-width="2"/><rect x="1935" y="270" width="7" height="7" fill="none" stroke="#00c" stroke-width="2"/><path stroke="#444" d="M1936 269L1945 253M1942 276L1957 268"/>
<path fill="#000" d="M1973 262H1999V268H1973Z"/><path stroke="#fff" d="M1976 262V265M1980 262V265M1984 262V265M1988 262V265M1992 262V265M1996 262V265"/>
<rect x="2014" y="253" width="25" height="25" fill="none" stroke="#000" stroke-dasharray="2 1.5"/><circle cx="2026" cy="265" r="7" fill="#000"/>
<path fill="none" stroke="#00c" stroke-width="3.5" d="M1897 294V310L1915 312M1897 310H1913"/><circle cx="1897" cy="296" r="4.5" fill="#00c"/><circle cx="1897" cy="311" r="4.5" fill="#00c"/><circle cx="1916" cy="311" r="4.5" fill="#00c"/><circle cx="1913" cy="296" r="4.5" fill="#d11"/>
<path stroke="#000" stroke-width="2" d="M1939 298L1952 312M1952 298L1939 312"/><circle cx="1945.5" cy="305" r="4" fill="#00b"/>
<circle cx="1993" cy="296" r="4.5" fill="#e11"/><circle cx="1978" cy="312" r="3.5" fill="none" stroke="#00c" stroke-width="2"/><path stroke="#000" d="M1981 308L1988 301"/>
<circle cx="2033" cy="296" r="4.5" fill="#e11"/><circle cx="2018" cy="312" r="4.5" fill="#00c"/><path stroke="#000" d="M2021 308L2028 301"/>
<path stroke-width="2.5" stroke="#e11" d="M1896 350L1909 334"/><path stroke-width="2.5" stroke="#00c" d="M1897 354H1916"/>
<path stroke-width="2.5" d="M1936 352L1949 338" stroke="#00c"/><path stroke-width="2.5" d="M1945 342L1953 333" stroke="#e11"/>
<path fill="none" stroke="#000" stroke-width="2" d="M1988 333C1993 338 1991 345 1982 345"/>
<path stroke-width="2.5" fill="none" stroke="#00c" d="M2024 334V354M2016 344H2024"/><path stroke-width="2.5" fill="none" stroke="#e11" d="M2030 334V354H2030M2030 344H2040"/>
<rect x="1894" y="387" width="11" height="11" fill="none" stroke="#00c"/><circle cx="1899" cy="392" r="3.5" fill="#00c"/><rect x="1908" y="372" width="11" height="11" fill="#e11"/><circle cx="1913.5" cy="377.5" r="3" fill="#ccc"/>
<path stroke="#e11" stroke-width="3" d="M1936 385H1956"/><path stroke="#00c" stroke-width="3" d="M1942 385H1950"/>
<path stroke="#00c" fill="none" d="M1976 374V396M1996 374V396M1976 385H1996M1982 380H1990V390H1982Z"/>
<path fill="#00c" d="M2016 375H2029V380H2036V395H2021V388H2016Z"/><circle cx="2021" cy="381" r="4" fill="#ccc"/><circle cx="2029" cy="389" r="4.5" fill="#ccc"/>
<path fill="none" stroke="#e11" stroke-width="2" d="M1896 430L1907 415L1916 430"/><path stroke="#00c" stroke-width="2.5" d="M1895 432H1917"/>
<path fill="none" stroke="#e11" stroke-width="2" d="M1936 438L1945 413L1954 438"/><path fill="none" stroke="#00c" stroke-width="2.5" d="M1936 438L1945 428L1954 438"/>
<path fill="none" stroke="#e11" stroke-width="3" d="M1977 430L1982 415H1991L1996 430"/><path stroke="#00c" stroke-width="2.5" fill="none" d="M1974 436L1978 430H1995L1999 436"/>
<path fill="none" stroke="#e11" stroke-width="3" d="M2018 430L2022 415H2031L2035 430"/><path stroke="#00c" stroke-width="3" d="M2013 430H2040"/>
<g fill="#000"><path d="M1902 453L1912 466L1907 465L1909 474L1906 475L1904 466L1901 468Z"/><path d="M1942 453L1952 466L1947 465L1949 474L1946 475L1944 466L1941 468Z"/><path d="M1982 453L1992 466L1987 465L1989 474L1986 475L1984 466L1981 468Z"/><path d="M2029 459L2039 472L2034 471L2036 480L2033 481L2031 472L2028 474Z"/></g>
<rect x="1935" y="453" width="21" height="24" fill="none" stroke="#e02000" stroke-width="2"/>
<path fill="none" stroke="#e02000" stroke-width="2" d="M1980 453H1996V477H1980L1975 471V459Z"/>
<path fill="none" stroke="#000" d="M2017 470V461H2024V468H2034V458"/><circle cx="2017" cy="466" r="2.5" fill="#d22"/><circle cx="2015" cy="475" r="2.5" fill="#2c2"/><circle cx="2034" cy="457" r="2.5" fill="#2c2"/>

<!-- lower right panel -->
<rect x="1885" y="488" width="2" height="517" fill="#4f8c80"/>
<rect x="2046" y="488" width="2" height="517" fill="#c0f0e0"/>
<path fill="none" stroke="#5a8a60" stroke-width="1" d="M1887 627H2046M1887 864H2046"/>
<rect x="1912" y="700" width="125" height="70" fill="#f00"/>
<rect x="1893" y="637" width="146" height="215" fill="none" stroke="#fff" stroke-width="1.5" rx="1"/>
<g stroke="#fff" stroke-width="1.6">
 <use href="#mini" x="1899" y="643"/><use href="#mini" x="1970" y="643"/><use href="#mini" x="1899" y="714"/><use href="#mini" x="1970" y="714"/><use href="#mini" x="1899" y="785"/><use href="#mini" x="1970" y="785"/>
</g>
<path fill="none" stroke="#4fd8d8" stroke-width="1.6" d="M1912 705H1955V700M1975 705H2026V700M1955 714L1956 727L1961 729V762L1955 763V770M1970 760V770"/>
<path fill="none" stroke="#a0a0a0" stroke-width="1.6" d="M1912 714H1955M1970 770V724L1972 720L1976 719L1978 714H2025L2026 727L2032 729V762L2026 763V770"/>
<use href="#cx" x="1899" y="706"/><use href="#cx" x="1970" y="706"/><use href="#cx" x="1899" y="776"/><use href="#cx" x="1970" y="776"/><use href="#cx" x="1899" y="847"/><use href="#cx" x="1970" y="847"/><use href="#cx" x="1893" y="853"/>
</svg>
</body></html>
